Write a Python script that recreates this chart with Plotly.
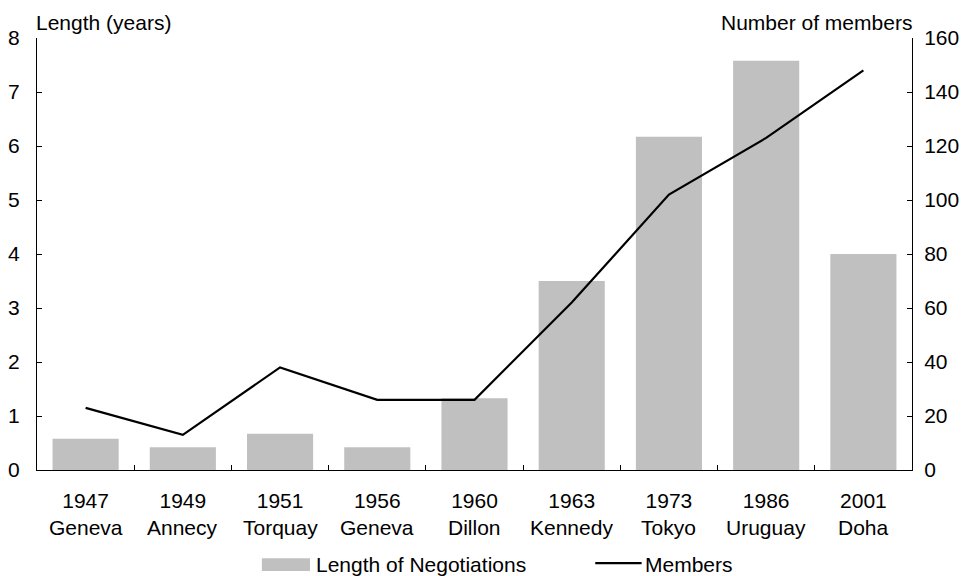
import plotly.graph_objects as go

years = ["1947", "1949", "1951", "1956", "1960", "1963", "1973", "1986", "2001"]
places = ["Geneva", "Annecy", "Torquay", "Geneva", "Dillon", "Kennedy", "Tokyo", "Uruguay", "Doha"]
length_years = [0.58, 0.42, 0.67, 0.42, 1.33, 3.5, 6.17, 7.58, 4.0]
members = [23, 13, 38, 26, 26, 62, 102, 123, 148]

FONT = "Liberation Sans, Arial, sans-serif"
FS = 21
BAR_COLOR = "#C0C0C0"

fig = go.Figure()
fig.add_trace(go.Bar(x=years, y=length_years, name="Length of Negotiations",
                     marker=dict(color=BAR_COLOR, line=dict(width=0)), yaxis="y"))
fig.add_trace(go.Scatter(x=years, y=members, name="Members", mode="lines",
                         line=dict(color="black", width=2.2), yaxis="y2"))

annotations = [
    dict(text="Length (years)", xref="paper", yref="paper", x=-0.003, y=1.035,
         xanchor="left", yanchor="middle", showarrow=False, font=dict(size=FS)),
    dict(text="Number of members", xref="paper", yref="paper", x=1.002, y=1.035,
         xanchor="right", yanchor="middle", showarrow=False, font=dict(size=FS)),
    dict(text="Length of Negotiations", xref="paper", yref="paper", x=0.316, y=-0.218,
         xanchor="left", yanchor="middle", showarrow=False, font=dict(size=FS)),
    dict(text="Members", xref="paper", yref="paper", x=0.693, y=-0.218,
         xanchor="left", yanchor="middle", showarrow=False, font=dict(size=FS)),
]
for i, pl in enumerate(places):
    annotations.append(dict(text=pl, x=i, xref="x", y=-0.132, yref="paper",
                            xanchor="center", yanchor="middle", showarrow=False,
                            font=dict(size=FS)))

shapes = [
    dict(type="rect", xref="paper", yref="paper", x0=0.257, x1=0.312, y0=-0.204, y1=-0.234,
         fillcolor=BAR_COLOR, line=dict(width=0)),
    dict(type="line", xref="paper", yref="paper", x0=0.638, x1=0.691, y0=-0.2157, y1=-0.2157,
         line=dict(color="black", width=2.2)),
]

fig.update_layout(
    width=966, height=576,
    margin=dict(l=37, r=54, t=38, b=106, autoexpand=False),
    paper_bgcolor="white", plot_bgcolor="white",
    font=dict(family=FONT, size=FS, color="black"),
    bargap=0.32,
    showlegend=False,
    xaxis=dict(type="category", range=[-0.5, len(years) - 0.5], autorange=False,
               showline=True, linecolor="black", linewidth=1, ticks="inside",
               ticklen=5, tickcolor="black", tickson="boundaries", showgrid=False,
               tickfont=dict(size=FS), ticklabelstandoff=12, tickangle=0),
    yaxis=dict(range=[0, 8], dtick=1, showline=True, linecolor="black", linewidth=1,
               ticks="inside", ticklen=5, tickcolor="black", showgrid=False,
               zeroline=False, tickfont=dict(size=FS), ticklabelstandoff=12),
    yaxis2=dict(range=[0, 160], dtick=20, overlaying="y", side="right",
                showline=True, linecolor="black", linewidth=1, ticks="inside",
                ticklen=5, tickcolor="black", showgrid=False, zeroline=False,
                tickfont=dict(size=FS), ticklabelstandoff=7),
    annotations=annotations,
    shapes=shapes,
)

fig.write_html("out.html", config={"displayModeBar": False},
               post_script="document.body.style.margin='0px';")
